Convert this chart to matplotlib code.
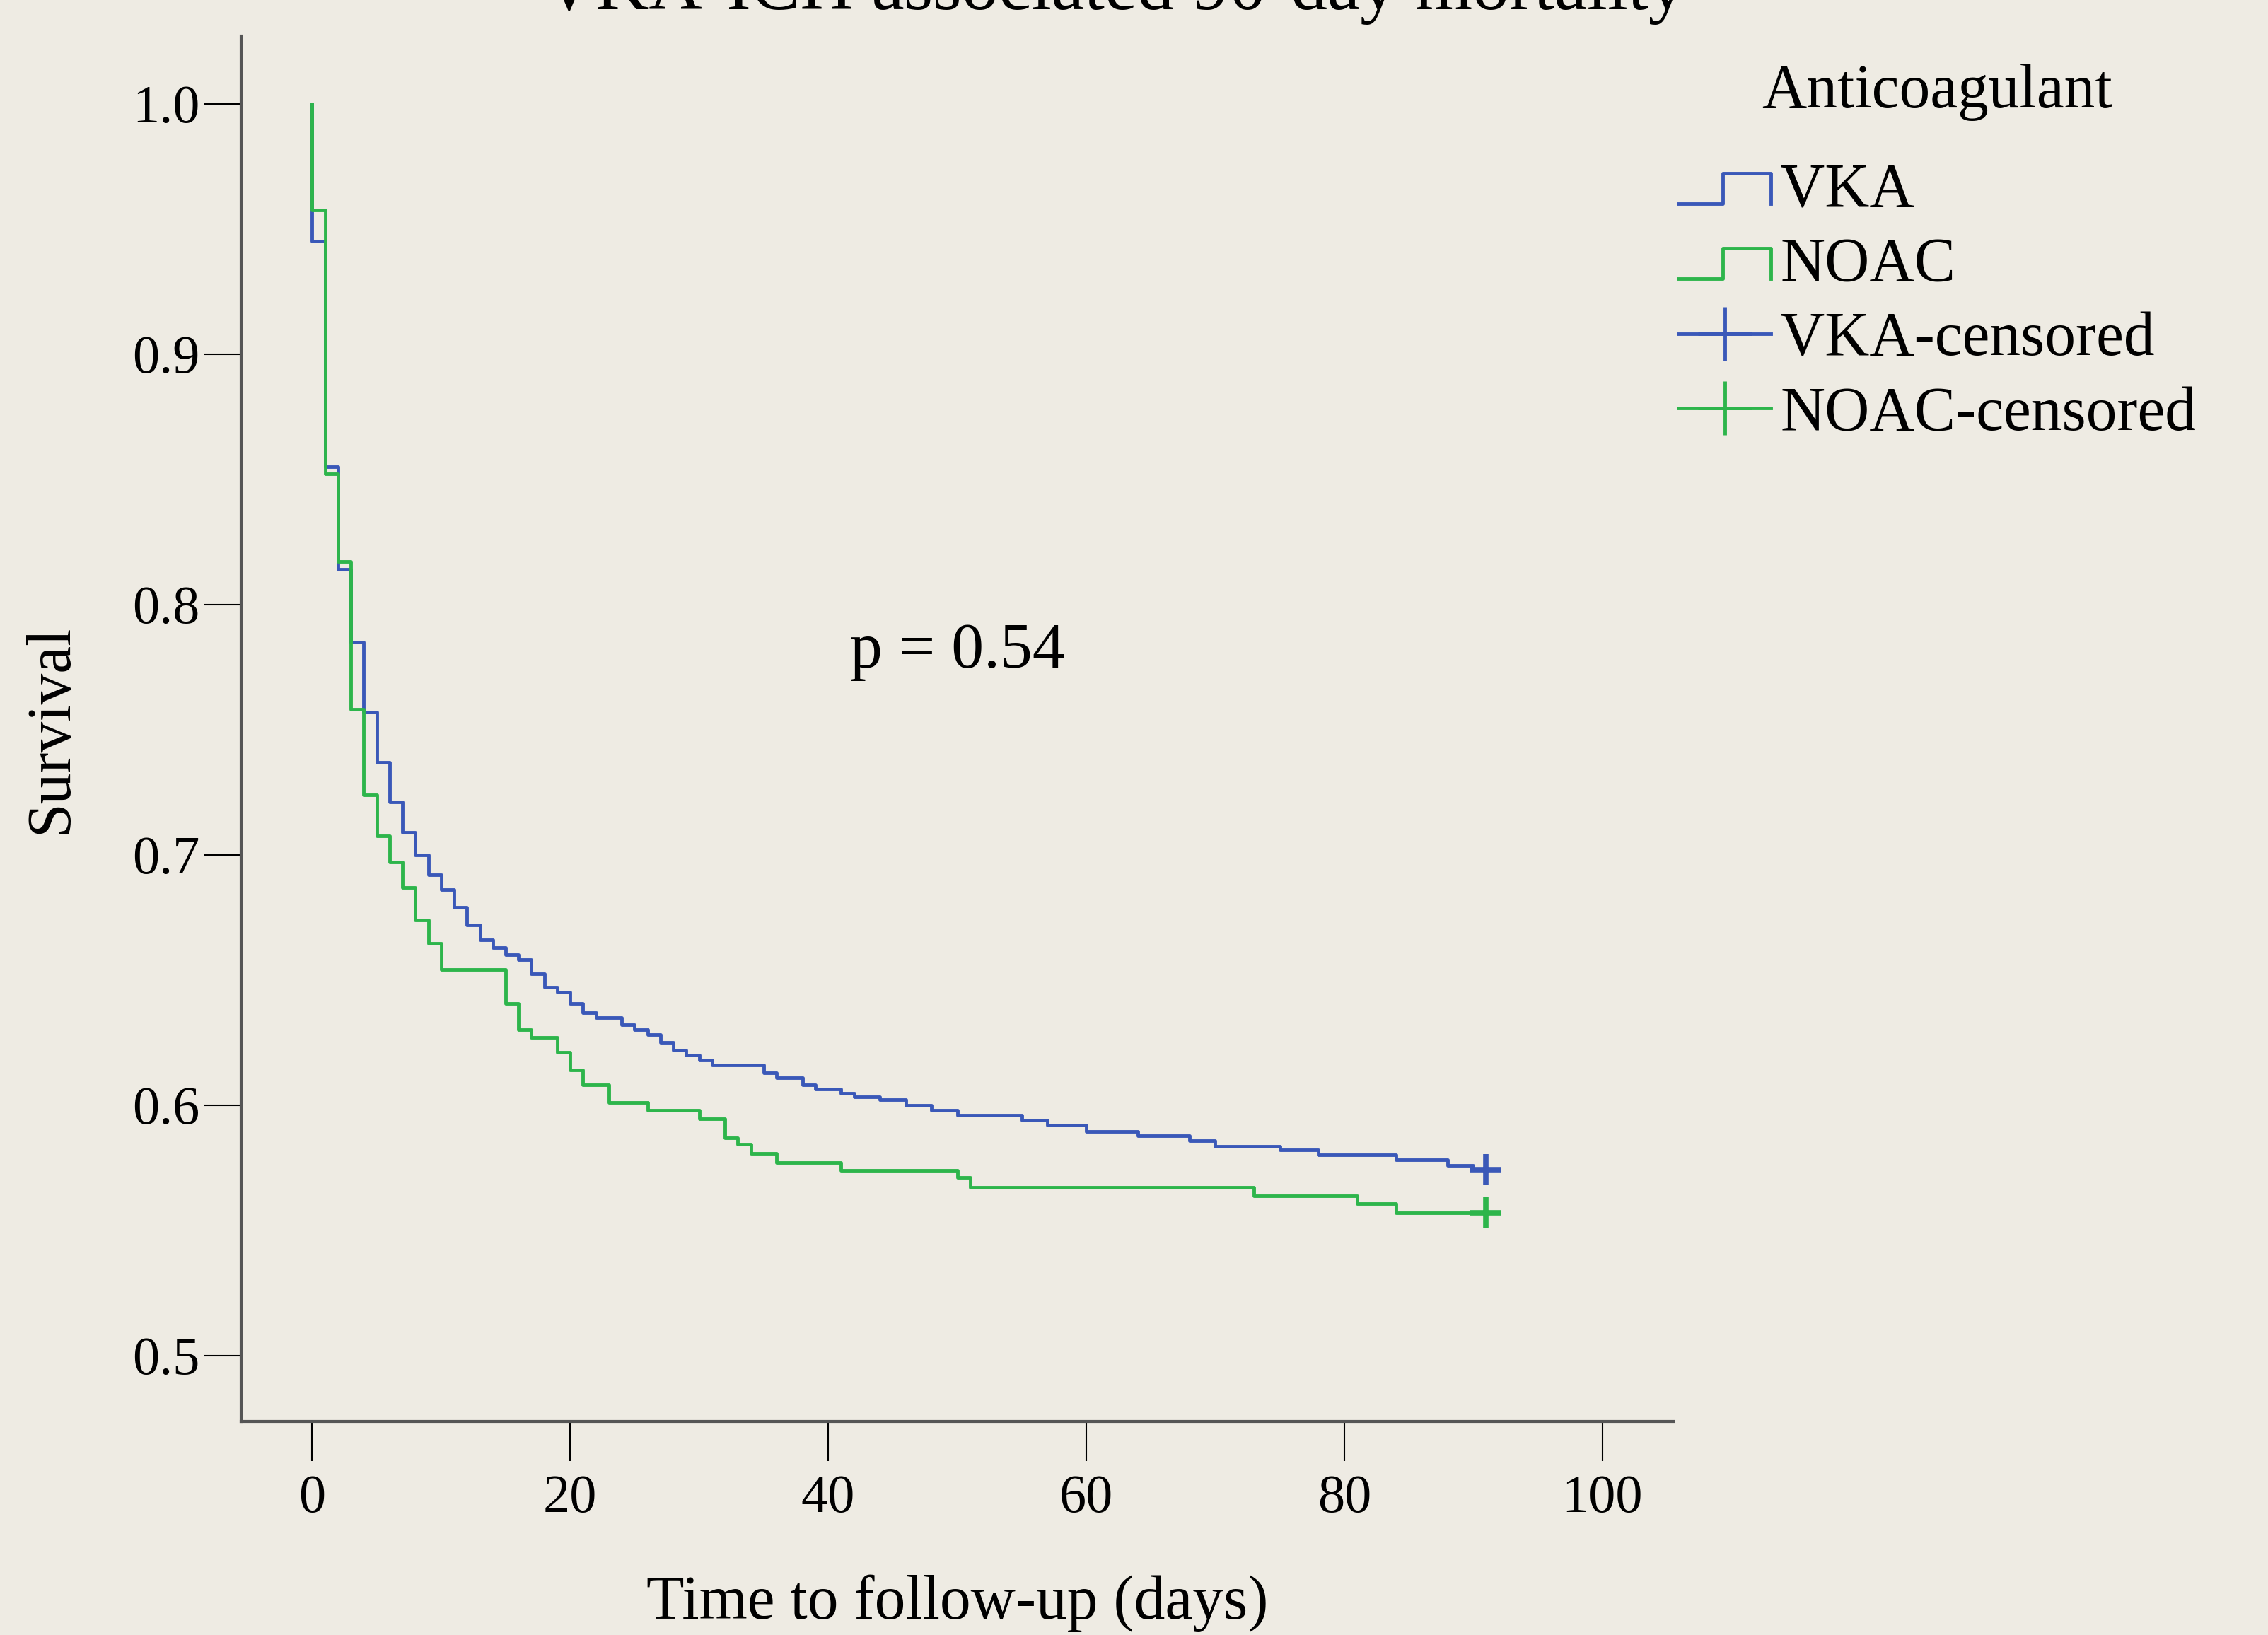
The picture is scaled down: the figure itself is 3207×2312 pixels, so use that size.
import matplotlib
matplotlib.use("Agg")
import matplotlib.pyplot as plt
from matplotlib.lines import Line2D
from matplotlib.legend_handler import HandlerBase

plt.rcParams['font.family'] = ['Liberation Serif', 'DejaVu Serif']

# Kaplan-Meier steps (day, survival after the drop)
vka_days = [0, 0, 1, 2, 3, 4, 5, 6, 7, 8, 9, 10, 11, 12, 13, 14, 15, 16, 17, 18, 19, 20,
            21, 22, 24, 25, 26, 27, 28, 29, 30, 31, 35, 36, 38, 39, 41, 42, 44, 46, 48,
            50, 55, 57, 60, 64, 68, 70, 75, 78, 84, 88, 90, 91]
vka_surv = [1.0, 0.945, 0.855, 0.814, 0.785, 0.757, 0.737, 0.721, 0.709, 0.700, 0.692,
            0.686, 0.679, 0.672, 0.666, 0.663, 0.660, 0.658, 0.6525, 0.647, 0.645, 0.6405,
            0.637, 0.635, 0.632, 0.630, 0.628, 0.625, 0.622, 0.620, 0.618, 0.616, 0.613,
            0.611, 0.608, 0.6065, 0.6046, 0.6033, 0.602, 0.600, 0.598, 0.596, 0.594, 0.592,
            0.5895, 0.5876, 0.5857, 0.5834, 0.582, 0.580, 0.578, 0.576, 0.5743, 0.5743]

noac_days = [0, 0, 1, 2, 3, 4, 5, 6, 7, 8, 9, 10, 15, 16, 17, 19, 20, 21, 23, 26, 30, 32,
             33, 34, 36, 41, 50, 51, 73, 81, 84, 91]
noac_surv = [1.0, 0.9575, 0.852, 0.817, 0.758, 0.724, 0.7075, 0.697, 0.687, 0.674, 0.6645,
             0.654, 0.6405, 0.630, 0.627, 0.621, 0.614, 0.608, 0.601, 0.598, 0.5945, 0.587,
             0.5844, 0.5806, 0.577, 0.574, 0.5712, 0.567, 0.5636, 0.5605, 0.557, 0.557]

censor_day = 91
groups = ['VKA', 'NOAC']
p_text = 'p = 0.54'

bg = '#EEEBE3'
blue = '#3A58B8'
green = '#2DB54B'
fs = 63

fig = plt.figure(figsize=(32.07, 23.12), dpi=100, facecolor=bg)
ax = fig.add_axes([341/3207, 1-2010/2312, (2366-341)/3207, (2010-51)/2312])
ax.set_facecolor(bg)

ax.step(vka_days, vka_surv, where='post', color=blue, lw=3.5)
ax.step(noac_days, noac_surv, where='post', color=green, lw=3.5)
ax.plot([censor_day], [vka_surv[-1]], marker='+', color=blue, ms=32, mew=5.5, ls='none')
ax.plot([censor_day], [noac_surv[-1]], marker='+', color=green, ms=32, mew=5.5, ls='none')

ax.text(50, 0.781, p_text, ha='center', va='center', fontsize=66)

ax.set_xlim(-5.5, 105.5)
ax.set_ylim(0.4736, 1.027)
ax.set_xticks([0, 20, 40, 60, 80, 100])
ax.set_yticks([0.5, 0.6, 0.7, 0.8, 0.9, 1.0])
ax.set_yticklabels(['0.5', '0.6', '0.7', '0.8', '0.9', '1.0'])
for s in ['top', 'right']:
    ax.spines[s].set_visible(False)
for s in ['left', 'bottom']:
    ax.spines[s].set_color('#555555')
    ax.spines[s].set_linewidth(3)
ax.tick_params(axis='x', length=40, width=1.5, pad=14, labelsize=55)
ax.tick_params(axis='y', length=38, width=1.5, pad=4, labelsize=55)

ax.set_xlabel('Time to follow-up (days)', fontsize=fs, va='center')
ax.xaxis.set_label_coords(0.5, -0.1312)
ax.set_ylabel('Survival', fontsize=fs, va='center')
ax.yaxis.set_label_coords(-0.1323, 0.5)

# title sits partly above the figure edge, as in the source picture
fig.text(0.491, 1-13/2312, 'VKA-ICH associated 90-day mortality', ha='center',
         va='baseline', fontsize=75)


class StepHandler(HandlerBase):
    def create_artists(self, legend, orig_handle, xdescent, ydescent, width, height,
                       fontsize, trans):
        x0, y0 = -xdescent, -ydescent
        xs = [x0, x0 + 0.48*width, x0 + 0.48*width, x0 + width, x0 + width]
        ys = [y0 + 0.05*height, y0 + 0.05*height, y0 + 0.75*height, y0 + 0.75*height,
              y0 + 0.05*height]
        ln = Line2D(xs, ys, color=orig_handle.get_color(), lw=3.5, transform=trans)
        return [ln]


h_vka = Line2D([], [], color=blue)
h_noac = Line2D([], [], color=green)
h_vka_c = Line2D([], [], color=blue, lw=3.5, marker='+', ms=55, mew=3.5)
h_noac_c = Line2D([], [], color=green, lw=3.5, marker='+', ms=55, mew=3.5)

leg = fig.legend([h_vka, h_noac, h_vka_c, h_noac_c],
                 groups + [g + '-censored' for g in groups],
                 handler_map={h_vka: StepHandler(), h_noac: StepHandler()},
                 loc='upper left', bbox_to_anchor=(2373/3207, 1-90/2312),
                 frameon=False, fontsize=fs, title='Anticoagulant', title_fontsize=fs,
                 handlelength=1.5, handletextpad=0.15, labelspacing=0.28, borderpad=0,
                 borderaxespad=0, numpoints=1)
leg._legend_box.sep = 42  # wider gap under the legend title

fig.savefig('out.png', dpi=100, facecolor=bg)
